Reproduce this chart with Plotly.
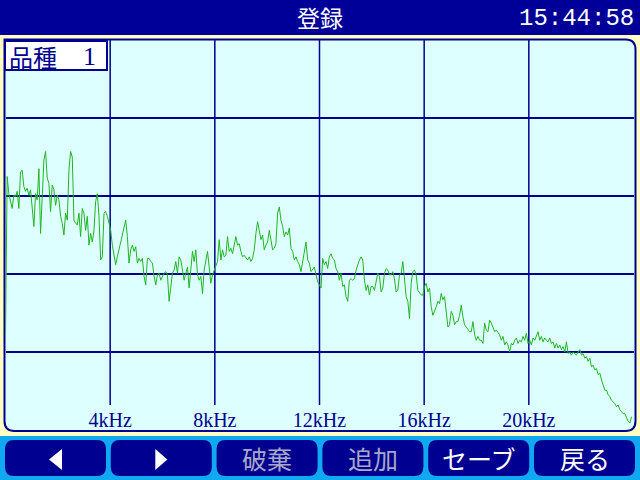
import numpy as np
import plotly.graph_objects as go

W, H = 640, 480

# --- データ: 周波数スペクトル (0〜24kHz, レベル dB) ---
FREQ_STEP_KHZ = 0.0638
level_db = [
    -37.8,
    # 0〜4kHz
    -17.5, -19.7, -20.5, -21.6, -19.9, -20.1, -19.4, -21.6, -16.9, -16.7,
    -18.8, -19.4, -19.0, -19.9, -19.2, -21.8, -23.9, -19.7, -20.5, -16.5,
    -24.8, -20.1, -15.4, -14.3, -17.7, -18.4, -22.0, -18.6, -19.2, -21.2,
    -19.9, -20.5, -22.6, -23.5, -25.0, -22.2, -23.1, -16.7, -14.3, -15.0,
    -23.1, -23.5, -23.7, -22.2, -25.2, -21.6, -22.2, -24.4, -22.6, -26.3,
    -24.8, -25.9, -24.4, -20.7, -19.7, -22.6, -28.2, -27.8, -22.2, -22.0,
    -22.6, -23.5, -24.4, -26.3, -27.6, -28.8, -27.8, -26.9, -25.6, -24.8,
    -23.9, -23.1, -25.2, -28.6, -26.9, -26.3, -27.1, -26.5, -28.6, -28.0,
    -28.4, -28.0, -30.3, -31.4, -28.0, -28.0, -28.4, -28.6, -30.3, -31.4,
    -30.1, -29.9,
    # 6〜12kHz
    -30.8, -30.3, -29.9, -29.7, -30.1, -33.5, -31.2, -29.9, -29.5, -28.4,
    -29.9, -27.8, -28.2, -29.5, -30.8, -29.9, -29.1, -31.8, -29.5, -27.1,
    -28.4, -26.9, -30.1, -30.8, -30.3, -32.5, -29.5, -28.2, -27.1, -29.1,
    -31.2, -30.1, -29.5, -29.1, -28.4, -25.6, -28.2, -26.9, -27.8, -27.6,
    -25.2, -27.1, -26.7, -27.4, -26.3, -25.2, -26.3, -26.1, -27.1, -27.8,
    -27.6, -28.0, -28.2, -27.8, -28.4, -28.0, -26.9, -24.8, -23.3, -24.4,
    -25.6, -25.0, -26.9, -26.3, -25.9, -24.4, -25.9, -26.9, -26.7, -26.1,
    -22.2, -21.4, -23.1, -23.9, -25.2, -24.6, -25.0, -24.1, -26.7, -27.1,
    -28.2, -27.8, -28.4, -28.8, -29.7, -28.4, -27.1, -25.9, -28.2, -28.6,
    # 12〜18kHz
    -29.7, -29.3, -29.1, -30.1, -31.0, -31.4, -31.8, -28.0, -28.8, -28.4,
    -29.3, -27.8, -27.4, -28.0, -28.2, -29.3, -29.7, -30.8, -29.9, -31.6,
    -31.4, -32.9, -33.5, -30.8, -30.6, -30.8, -30.6, -29.5, -28.8, -28.2,
    -27.8, -28.2, -30.8, -32.1, -31.4, -32.7, -31.6, -31.6, -32.1, -31.0,
    -29.9, -30.3, -32.3, -31.8, -29.9, -29.3, -29.5, -30.1, -30.1, -29.7,
    -30.6, -32.3, -32.1, -30.1, -29.9, -28.4, -30.8, -32.9, -33.5, -35.7,
    -31.2, -29.7, -29.5, -30.1, -32.1, -32.5, -32.7, -32.7, -31.6, -31.2,
    -32.3, -31.8, -34.2, -35.3, -34.8, -34.2, -33.5, -33.8, -32.5, -33.3,
    -32.9, -34.8, -36.8, -36.5, -34.8, -35.3, -36.5, -36.1, -36.1, -35.3,
    -34.0, -35.5, -36.5, -36.8, -37.2, -37.4,
    # 18〜24kHz
    -37.4, -36.1, -37.8, -38.5, -38.0, -38.5, -38.5, -38.9, -36.3, -37.2,
    -37.4, -35.9, -36.3, -37.0, -37.4, -37.2, -37.6, -37.8, -38.5, -38.0,
    -39.1, -38.7, -39.1, -40.0, -38.9, -39.1, -38.5, -38.2, -38.9, -38.5,
    -38.7, -38.0, -38.5, -37.6, -38.9, -38.5, -39.1, -38.2, -38.5, -37.8,
    -37.4, -38.5, -38.0, -38.7, -38.2, -38.5, -38.7, -38.2, -38.9, -38.7,
    -39.5, -38.9, -39.5, -39.1, -39.7, -39.3, -40.0, -38.7, -40.2, -40.0,
    -40.4, -40.0, -40.2, -40.4, -40.0, -39.7, -40.4, -40.2, -40.8, -40.6,
    -41.2, -40.8, -41.9, -41.7, -42.3, -42.1, -42.9, -42.7, -43.6, -44.4,
    -44.9, -44.9, -45.5, -45.7, -46.2, -46.4, -46.6, -47.0, -46.8, -47.4,
    -47.6, -47.9, -47.9, -48.5, -48.9, -49.1, -48.3,
]
freq_khz = np.arange(len(level_db)) * FREQ_STEP_KHZ

grid_khz = [4, 8, 12, 16, 20]
tick_text = ['4kHz', '8kHz', '12kHz', '16kHz', '20kHz']

title_text = '登録'
clock_text = '15:44:58'
kind_label = '品種'
kind_no = '1'
button_labels = ['', '', '破棄', '追加', 'セーブ', '戻る']
button_enabled = [True, True, False, False, True, True]

# --- 色 ---
NAVY = '#000090'
BAR = '#000099'
BLUE = '#10A8F0'
YELLOW = '#FFFFC4'
PANEL = '#DDFFFF'
GREEN = '#22B422'
GRAY = '#A8A8C8'
JP = 'Noto Sans CJK JP'
SERIF = 'Liberation Serif'
MONO = 'Liberation Mono'


def px(x):
    return x / W


def py(y):
    return 1 - y / H


def rrect(x0, y0, x1, y1, r, tl=True, tr=True, br=True, bl=True):
    a, b, c, d = (r if tl else 0), (r if tr else 0), (r if br else 0), (r if bl else 0)
    pts = [
        ('M', [(x0 + a, y0)]), ('L', [(x1 - b, y0)]), ('Q', [(x1, y0), (x1, y0 + b)]),
        ('L', [(x1, y1 - c)]), ('Q', [(x1, y1), (x1 - c, y1)]),
        ('L', [(x0 + d, y1)]), ('Q', [(x0, y1), (x0, y1 - d)]),
        ('L', [(x0, y0 + a)]), ('Q', [(x0, y0), (x0 + a, y0)]),
    ]
    s = ''
    for cmd, ps in pts:
        s += cmd + ' ' + ' '.join(f'{px(x):.5f},{py(y):.5f}' for x, y in ps) + ' '
    return s + 'Z'


def poly(points):
    return 'M ' + ' L '.join(f'{px(x):.5f},{py(y):.5f}' for x, y in points) + ' Z'


def label(text, x, y, size, color, family, xanchor='center'):
    return dict(text=text, x=px(x), y=py(y), xref='paper', yref='paper', xanchor=xanchor,
                yanchor='middle', showarrow=False, font=dict(family=family, size=size, color=color))


shapes = []
annotations = []

# 上のバーと下のボタンバー
shapes.append(dict(type='rect', xref='paper', yref='paper', x0=0, x1=1, y0=py(35), y1=1,
                   fillcolor=BAR, line_width=0, layer='below'))
shapes.append(dict(type='rect', xref='paper', yref='paper', x0=0, x1=1, y0=0, y1=py(436),
                   fillcolor=BLUE, line_width=0, layer='below'))

# グラフパネル
shapes.append(dict(type='path', xref='paper', yref='paper',
                   path=rrect(4.5, 39.5, 635.5, 431, 10, tl=False),
                   fillcolor=PANEL, line=dict(color=NAVY, width=2), layer='below'))

# 縦グリッド (ラベルの上で止まる)
for g in grid_khz:
    shapes.append(dict(type='line', xref='x', yref='paper', x0=g, x1=g, y0=py(405), y1=py(40),
                       line=dict(color=NAVY, width=1.5), layer='below'))

# 品種ボックス
shapes.append(dict(type='rect', xref='paper', yref='paper', x0=px(5), x1=px(107), y0=py(70), y1=py(41),
                   fillcolor='white', line=dict(color=NAVY, width=2), layer='above'))
annotations.append(label(kind_label, 7, 56, 24, NAVY, JP, 'left'))
annotations.append(label(kind_no, 98, 56, 26, NAVY, SERIF, 'right'))

# タイトル・時計
annotations.append(label(title_text, 320, 17, 23, 'white', JP))
annotations.append(label(clock_text, 636, 19, 24, 'white', MONO, 'right'))

# ボタン
for i, (lab, on) in enumerate(zip(button_labels, button_enabled)):
    bx0 = 5 + i * 105.8
    bx1 = bx0 + 101
    cx = (bx0 + bx1) / 2
    shapes.append(dict(type='path', xref='paper', yref='paper', path=rrect(bx0, 440, bx1, 476, 9),
                       fillcolor=NAVY, line_width=0, layer='above'))
    if i == 0:
        shapes.append(dict(type='path', xref='paper', yref='paper',
                           path=poly([(cx - 6.5, 459.5), (cx + 6.5, 449), (cx + 6.5, 470)]),
                           fillcolor='white', line_width=0, layer='above'))
    elif i == 1:
        shapes.append(dict(type='path', xref='paper', yref='paper',
                           path=poly([(cx + 6, 459.5), (cx - 6, 449), (cx - 6, 470)]),
                           fillcolor='white', line_width=0, layer='above'))
    else:
        annotations.append(label(lab, cx, 458, 25, 'white' if on else GRAY, JP))

fig = go.Figure()
fig.add_trace(go.Scatter(x=freq_khz, y=level_db, mode='lines',
                         line=dict(color=GREEN, width=1), hoverinfo='skip'))

fig.update_layout(
    width=W, height=H,
    margin=dict(l=0, r=0, t=0, b=0),
    paper_bgcolor=YELLOW,
    plot_bgcolor='rgba(0,0,0,0)',
    showlegend=False,
    shapes=shapes,
    annotations=annotations,
    xaxis=dict(domain=[px(5.5), px(633.5)], range=[0, 24], showgrid=False, zeroline=False,
               showline=False, ticks='', tickvals=grid_khz, ticktext=tick_text,
               ticklabelposition='inside', tickfont=dict(family=SERIF, size=20, color=NAVY),
               anchor='free', position=py(434), fixedrange=True),
    yaxis=dict(domain=[py(430), py(40)], range=[-50, 0], dtick=10, showgrid=True,
               gridcolor=NAVY, gridwidth=1.5, zeroline=False, showline=False,
               showticklabels=False, ticks='', fixedrange=True),
)

# 画面いっぱいに表示するため body の余白を消す
fig.write_html('out.html', config={'displayModeBar': False},
               post_script="document.body.style.margin='0';document.body.style.overflow='hidden';")
